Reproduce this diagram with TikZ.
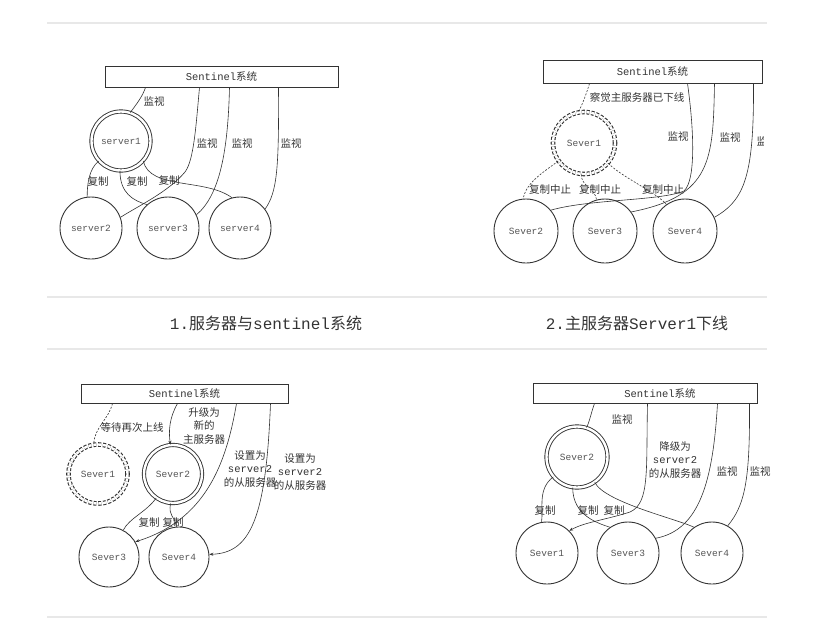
\documentclass[tikz,border=0pt]{standalone}
\usepackage{fontspec}
\newfontfamily\cjk{Noto Sans CJK SC}
\newfontfamily\mono{Liberation Mono}
\usetikzlibrary{arrows.meta}
\definecolor{sepgray}{HTML}{E8E8E8}
\definecolor{inkgray}{HTML}{333333}
\definecolor{namegray}{HTML}{555555}
\newcommand{\sentname}{{\mono Sentinel}系统}

\begin{document}
\begin{tikzpicture}[x=1pt,y=-1pt,
    link/.style={draw=inkgray,line width=0.6pt},
    cut/.style={link,dash pattern=on 2pt off 1.5pt},
    push/.style={link,-{Stealth[length=4pt,width=3pt]}},
    sentbox/.style={draw=inkgray,line width=1pt,inner sep=0pt,font=\cjk\fontsize{10.5}{11}\selectfont,text=inkgray},
    srv/.style={circle,draw=inkgray,line width=0.9pt,minimum size=62pt,inner sep=0pt,font=\mono\fontsize{9.5}{10}\selectfont,text=namegray},
    mastersrv/.style={srv,minimum size=59pt,double,double distance=2.4pt,line width=0.9pt},
    downsrv/.style={mastersrv,dash pattern=on 3pt off 1.8pt,line width=1.1pt},
    lbl/.style={font=\cjk\fontsize{10.5}{13.5}\selectfont,text=inkgray,align=center,inner sep=0pt},
    caption/.style={font=\cjk\fontsize{16}{18}\selectfont,text=inkgray}]
\useasboundingbox (0,0) rectangle (821,627);
% separators and captions
\draw[sepgray,line width=1.5pt] (47,23) -- (767,23);
\draw[sepgray,line width=1.5pt] (47,297) -- (767,297);
\draw[sepgray,line width=1.5pt] (47,349) -- (767,349);
\draw[sepgray,line width=1.5pt] (47,617) -- (767,617);
\node[caption] (cap1) at (266,323) {{\mono 1.}服务器与{\mono sentinel}系统};
\node[caption] (cap2) at (637,323) {{\mono 2.}主服务器{\mono Server1}下线};

% 1. servers and sentinel
\node[sentbox,minimum width=233pt,minimum height=21pt] (box1) at (221.5,76.5) {\sentname};
\node[mastersrv] (a1) at (121,141) {server1};
\node[srv] (a2) at (91,228) {server2};
\node[srv] (a3) at (168,228) {server3};
\node[srv] (a4) at (240,228) {server4};
\draw[link] ([xshift=41pt]box1.south west) .. controls +(-3,9) and +(6,-8) .. (a1.72);
\draw[link] ([xshift=95pt]box1.south west) .. controls (196,125) and (194,160) .. (185,172) .. controls (168,192) and (140,205) .. (a2.20);
\draw[link] ([xshift=125pt]box1.south west) .. controls (228,150) and (220,195) .. (a3.25);
\draw[link] ([xshift=174pt]box1.south west) .. controls (279,170) and (277,192) .. (a4.37);
\draw[link] (a1.222) .. controls +(-10,8) and +(0,-12) .. (a2.97);
\draw[link] (a1.268) .. controls +(0,22) and +(-14,-4) .. (a3.132);
\draw[link] (a1.318) .. controls (150,190) and (205,178) .. (a4.105);
\node[lbl] (m1) at (154,102) {监视};
\node[lbl] (m2) at (207,144) {监视};
\node[lbl] (m3) at (242,144) {监视};
\node[lbl] (m4) at (291,144) {监视};
\node[lbl] (r1) at (98,182) {复制};
\node[lbl] (r2) at (137,182) {复制};
\node[lbl] (r3) at (169,181) {复制};

% 2. master down (picture cut at the right)
\begin{scope}
\clip (480,40) rectangle (763,280);
\node[sentbox,minimum width=219pt,minimum height=23pt] (box2) at (652.5,71.5) {\sentname};
\node[downsrv,minimum size=62pt] (b1) at (584,143) {Sever1};
\node[srv,minimum size=64pt] (b2) at (526,231) {Sever2};
\node[srv,minimum size=64pt] (b3) at (605,231) {Sever3};
\node[srv,minimum size=64pt] (b4) at (685,231) {Sever4};
\draw[cut] ([xshift=47pt]box2.south west) .. controls +(-3,10) and +(4,-8) .. (b1.100);
\draw[link] ([xshift=145pt]box2.south west) .. controls (694,130) and (696,180) .. (684,191) .. controls (660,201) and (590,199) .. (b2.40);
\draw[link] ([xshift=172pt]box2.south west) .. controls (713,160) and (712,196) .. (b3.36);
\draw[link] ([xshift=211pt]box2.south west) .. controls (754,175) and (745,200) .. (b4.25);
\draw[cut] (b1.215) .. controls +(-16,12) and +(3,-16) .. (b2.95);
\draw[cut] (b1.265) .. controls +(0,12) and +(-2,-12) .. (b3.105);
\draw[cut] (b1.320) .. controls +(14,14) and +(-10,-12) .. (b4.125);
\node[lbl] (n0) at (637,98) {察觉主服务器已下线};
\node[lbl] (n1) at (678,137) {监视};
\node[lbl] (n2) at (730,138) {监视};
\node[lbl] (n3) at (767,142) {监视};
\node[lbl] (q1) at (550,190) {复制中止};
\node[lbl] (q2) at (600,190) {复制中止};
\node[lbl] (q3) at (663,190) {复制中止};
\end{scope}

% 3. failover
\node[sentbox,minimum width=207pt,minimum height=19pt] (box3) at (184.5,393.5) {\sentname};
\node[downsrv] (c1) at (98,474) {Sever1};
\node[mastersrv,minimum size=58pt] (c2) at (173,474) {Sever2};
\node[srv,minimum size=60pt] (c3) at (109,557) {Sever3};
\node[srv,minimum size=60pt] (c4) at (179,557) {Sever4};
\draw[cut] ([xshift=32pt]box3.south west) .. controls +(-4,16) and +(0,-16) .. (c1.98);
\draw[push] ([xshift=97pt]box3.south west) .. controls +(-8,14) and +(-2,-14) .. (c2.95);
\draw[push] ([xshift=156pt]box3.south west) .. controls (226,465) and (205,520) .. (c3.30);
\draw[push] ([xshift=190pt]box3.south west) .. controls (266,520) and (250,553) .. (c4.5);
\draw[link] (c2.235) .. controls +(-10,14) and +(6,-12) .. (c3.62);
\draw[link] (c2.265) .. controls +(-2,14) and +(-2,-12) .. (c4.95);
\node[lbl] (w1) at (132,427) {等待再次上线};
\node[lbl] (w2) at (204,426) {升级为\\新的\\主服务器};
\node[lbl] (w3) at (250,469) {设置为\\{\mono server2}\\的从服务器};
\node[lbl] (w4) at (300,472) {设置为\\{\mono server2}\\的从服务器};
\node[lbl] (k1) at (149,522) {复制};
\node[lbl] (k2) at (173,522) {复制};

% 4. old master back as slave
\node[sentbox,minimum width=224pt,minimum height=20pt] (box4) at (645,393) {\hspace*{30pt}\sentname};
\node[mastersrv,minimum size=61pt] (d2) at (577,457) {Sever2};
\node[srv] (d1) at (547,553) {Sever1};
\node[srv] (d3) at (628,553) {Sever3};
\node[srv] (d4) at (712,553) {Sever4};
\draw[link] ([xshift=62pt]box4.south west) .. controls +(-3,8) and +(3,-6) .. (d2.72);
\draw[push] ([xshift=115pt]box4.south west) .. controls (646,470) and (650,503) .. (630,512) .. controls (605,520) and (585,522) .. (d1.45);
\draw[link] ([xshift=185pt]box4.south west) .. controls (713,480) and (700,530) .. (d3.28);
\draw[link] ([xshift=217pt]box4.south west) .. controls (750,480) and (745,505) .. (d4.60);
\draw[link] (d2.220) .. controls +(-16,12) and +(2,-14) .. (d1.100);
\draw[link] (d2.262) .. controls +(0,28) and +(-12,-4) .. (d3.125);
\draw[link] (d2.305) .. controls +(10,20) and +(-16,-8) .. (d4.125);
\node[lbl] (u1) at (622,420) {监视};
\node[lbl] (u2) at (675,460) {降级为\\{\mono server2}\\的从服务器};
\node[lbl] (u3) at (727,472) {监视};
\node[lbl] (u4) at (760,472) {监视};
\node[lbl] (v1) at (545,510) {复制};
\node[lbl] (v2) at (588,510) {复制};
\node[lbl] (v3) at (614,510) {复制};
\end{tikzpicture}
\end{document}
